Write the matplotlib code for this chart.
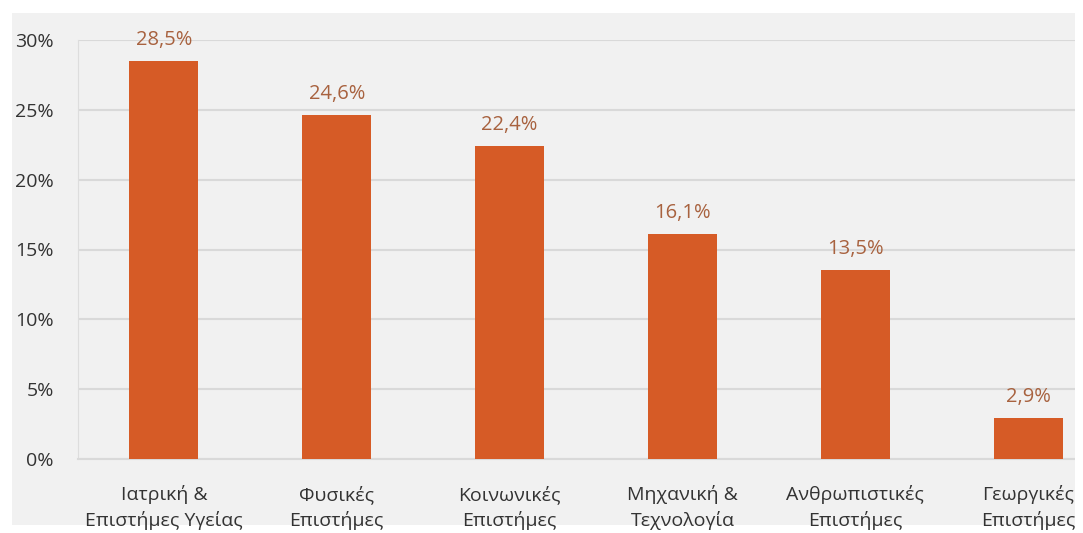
import matplotlib.pyplot as plt
from matplotlib.patches import Rectangle
from matplotlib.ticker import FuncFormatter

# data
categories = ['Ιατρική &\nΕπιστήμες Υγείας', 'Φυσικές\nΕπιστήμες', 'Κοινωνικές\nΕπιστήμες',
              'Μηχανική &\nΤεχνολογία', 'Ανθρωπιστικές\nΕπιστήμες', 'Γεωργικές\nΕπιστήμες']
shares = [28.5, 24.6, 22.4, 16.1, 13.5, 2.9]
yticks = [0, 5, 10, 15, 20, 25, 30]

plt.rcParams['font.family'] = ['Open Sans', 'DejaVu Sans']

fig = plt.figure(figsize=(10.83, 5.33), dpi=100, facecolor='white')
# gray slide background, kept behind the axes
fig.patches.append(Rectangle((12 / 1083, 8 / 533), 1063 / 1083, 512 / 533, transform=fig.transFigure,
                             facecolor='#F1F1F1', edgecolor='none', zorder=-10))
# white margin on the right where the screenshot was cut
fig.patches.append(Rectangle((1075 / 1083, 0), 8 / 1083, 1, transform=fig.transFigure,
                             facecolor='white', edgecolor='none', zorder=10))

ax = fig.add_axes([77.5 / 1083, 74 / 533, 1037 / 1083, 419 / 533])
ax.set_facecolor('none')

x = range(len(categories))
ax.bar(x, shares, width=0.4, color='#D65B26', zorder=3)

for xi, v in zip(x, shares):
    ax.annotate(f'{v:.1f}%'.replace('.', ','), (xi, v), xytext=(0, 8), textcoords='offset points',
                ha='center', va='bottom', fontsize=14.5, color='#A8623F')

ax.set_xlim(-0.5, len(categories) - 0.5)
ax.set_ylim(0, 30)
ax.set_yticks(yticks)
ax.yaxis.set_major_formatter(FuncFormatter(lambda v, p: f'{v:.0f}%'))
ax.grid(axis='y', color='#D9D9D9', linewidth=1.5, zorder=1)
ax.set_xticks(list(x))
ax.set_xticklabels(categories, fontsize=14, color='#333333', linespacing=1.45)
ax.tick_params(axis='y', labelsize=14, labelcolor='#333333', length=0, pad=17)
ax.tick_params(axis='x', length=0, pad=19)

for s in ['top', 'right']:
    ax.spines[s].set_visible(False)
ax.spines['left'].set_color('#DDDDDD')
ax.spines['bottom'].set_color('#D9D9D9')
ax.spines['bottom'].set_linewidth(1.5)

plt.savefig('out.png', dpi=100, facecolor='white')
